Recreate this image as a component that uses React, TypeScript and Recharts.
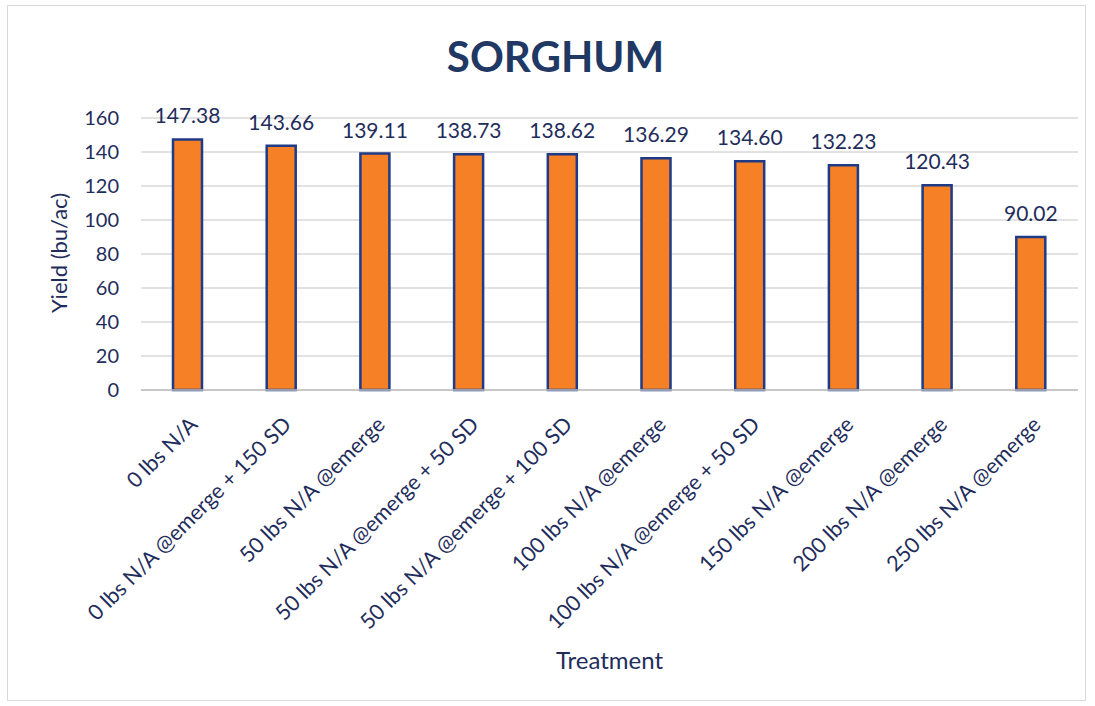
import { BarChart, Bar, XAxis, YAxis, CartesianGrid, LabelList, Label } from 'recharts';

const treatments = [
    '0 lbs N/A',
    '0 lbs N/A @emerge + 150 SD',
    '50 lbs N/A @emerge',
    '50 lbs N/A @emerge + 50 SD',
    '50 lbs N/A @emerge + 100 SD',
    '100 lbs N/A @emerge',
    '100 lbs N/A @emerge + 50 SD',
    '150 lbs N/A @emerge',
    '200 lbs N/A @emerge',
    '250 lbs N/A @emerge'
];
const yields = [147.38, 143.66, 139.11, 138.73, 138.62, 136.29, 134.6, 132.23, 120.43, 90.02];
const yTicks = [0, 20, 40, 60, 80, 100, 120, 140, 160];

const navy = '#1F2D5C';
const font = 'Lato, "Open Sans", sans-serif';

const data = treatments.map((t, i) => ({ treatment: t, yield: yields[i] }));

const XTick = (props: any) => {
    const { x, y, payload } = props;
    return (
        <g transform={`translate(${x + 11},${y + 28}) rotate(-45)`}>
            <text x={0} y={0} textAnchor="end" fill={navy} fontSize={21.5} fontFamily={font}>
                {payload.value}
            </text>
        </g>
    );
};

const App = () => {
    return (
        <div style={{ position: 'absolute', left: 0, top: 0, width: 1095, height: 706, background: '#fff' }}>
            <div style={{
                position: 'absolute', left: 7, top: 5, width: 1077, height: 694,
                border: '1px solid #D9D9D9'
            }} />
            <div style={{
                position: 'absolute', left: 16, top: 30, width: 1079, textAlign: 'center',
                fontFamily: font, fontWeight: 700, fontSize: 42, color: '#1F3864', lineHeight: '52px'
            }}>
                SORGHUM
            </div>
            <div style={{ position: 'absolute', left: 0, top: 0 }}>
                <BarChart
                    width={1095}
                    height={706}
                    data={data}
                    margin={{ top: 118, right: 17, bottom: 0, left: 9 }}
                    barCategoryGap={0}
                >
                    <CartesianGrid vertical={false} stroke="#D9D9D9" strokeWidth={1.5} />
                    <XAxis
                        dataKey="treatment"
                        interval={0}
                        height={316}
                        tickLine={false}
                        axisLine={{ stroke: '#BFBFBF', strokeWidth: 1.5 }}
                        tick={<XTick />}
                    >
                        <Label
                            value="Treatment"
                            position="insideBottom"
                            offset={37}
                            fill={navy}
                            fontSize={24}
                            fontFamily={font}
                        />
                    </XAxis>
                    <YAxis
                        domain={[0, 160]}
                        ticks={yTicks}
                        width={132}
                        axisLine={false}
                        tickLine={false}
                        tickMargin={16}
                        tick={{ fill: navy, fontSize: 20, fontFamily: font }}
                    >
                        <Label
                            content={(p: any) => {
                                const vb = p.viewBox;
                                const cx = vb.x + 49;
                                const cy = vb.y + vb.height / 2 - 1;
                                return (
                                    <text
                                        x={cx}
                                        y={cy}
                                        transform={`rotate(-90, ${cx}, ${cy})`}
                                        textAnchor="middle"
                                        dominantBaseline="central"
                                        fill={navy}
                                        fontSize={22}
                                        fontFamily={font}
                                    >
                                        Yield (bu/ac)
                                    </text>
                                );
                            }}
                        />
                    </YAxis>
                    <Bar
                        dataKey="yield"
                        fill="#F58025"
                        stroke="#1F3A87"
                        strokeWidth={2.5}
                        barSize={29}
                        isAnimationActive={false}
                    >
                        <LabelList
                            dataKey="yield"
                            position="top"
                            offset={16}
                            fill={navy}
                            fontSize={21}
                            fontFamily={font}
                            formatter={(v: any) => Number(v).toFixed(2)}
                        />
                    </Bar>
                </BarChart>
            </div>
        </div>
    );
};

export default App;
